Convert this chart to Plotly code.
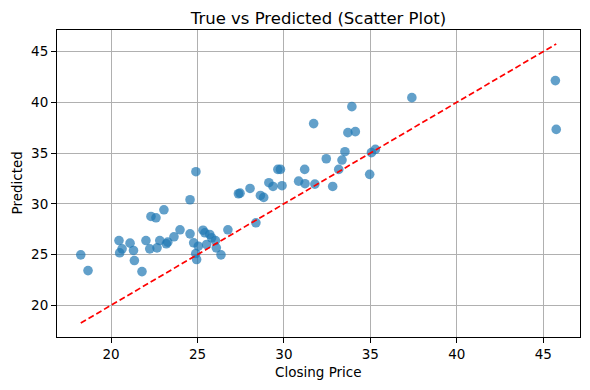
import plotly.graph_objects as go

# True (closing price) and predicted values
true_vals = [18.25, 18.67, 20.46, 20.50, 20.64, 21.10, 21.30, 21.35, 21.79, 22.02,
             22.24, 22.31, 22.60, 23.06, 22.66, 22.82, 23.20, 23.28, 23.64, 23.99,
             24.57, 24.57, 24.78, 24.90, 24.95, 25.05, 25.32, 25.43, 25.53, 25.71,
             25.82, 26.04, 26.09, 26.36, 26.76, 27.37, 27.46, 28.04, 28.38, 28.64,
             28.83, 29.13, 29.37, 29.89, 30.85, 31.22, 31.79, 24.91, 29.65, 29.80,
             31.20, 32.45, 31.72, 33.93, 33.70, 34.13, 33.53, 33.36, 33.17, 32.82,
             34.96, 35.06, 35.29, 37.40, 45.70, 45.75]
pred_vals = [24.97, 23.42, 26.38, 25.17, 25.56, 26.12, 25.40, 24.41, 23.32, 26.38,
             25.56, 28.75, 28.62, 29.41, 25.66, 26.38, 26.06, 26.22, 26.75, 27.44,
             30.40, 27.04, 26.16, 25.10, 24.51, 25.82, 27.40, 27.14, 25.99, 26.98,
             26.65, 26.38, 25.66, 24.97, 27.44, 30.99, 31.05, 31.51, 28.13, 30.82,
             30.63, 32.08, 31.71, 31.78, 32.23, 31.98, 31.94, 33.16, 33.39, 33.39,
             33.39, 34.44, 37.90, 39.57, 37.01, 37.11, 35.13, 34.31, 33.39, 31.71,
             32.90, 35.04, 35.36, 40.46, 42.14, 37.33]

x_ticks = [20, 25, 30, 35, 40, 45]
y_ticks = [20, 25, 30, 35, 40, 45]

lo = min(true_vals)
hi = max(true_vals)
span = hi - lo
rng = [lo - 0.05 * span, hi + 0.05 * span]

fig = go.Figure()
fig.add_trace(go.Scatter(
    x=true_vals, y=pred_vals, mode="markers",
    marker=dict(color="#1f77b4", size=9.6, opacity=0.7, line=dict(width=0)),
    showlegend=False,
))
fig.add_trace(go.Scatter(
    x=[lo, hi], y=[lo, hi], mode="lines",
    line=dict(color="red", width=1.7, dash="6px,3px"),
    showlegend=False,
))

axis_common = dict(
    showgrid=True, gridcolor="#b0b0b0", gridwidth=1.1,
    showline=True, linecolor="black", linewidth=1.1, mirror=True,
    ticks="outside", ticklen=5, tickwidth=1.1, tickcolor="black",
    zeroline=False, automargin=False,
    tickfont=dict(family="DejaVu Sans", size=13.5, color="black"),
)

label_font = dict(family="DejaVu Sans", size=13.5, color="black")

fig.update_layout(
    width=590, height=390,
    margin=dict(l=57, r=10, t=30, b=53),
    plot_bgcolor="white", paper_bgcolor="white",
    title=dict(text="True vs Predicted (Scatter Plot)", x=0.5, xref="paper",
               y=1, yref="paper", yanchor="bottom", pad=dict(b=6), automargin=False,
               font=dict(family="DejaVu Sans", size=16.5, color="black")),
    xaxis=dict(range=rng, tickvals=x_ticks, **axis_common),
    yaxis=dict(range=rng, tickvals=y_ticks, **axis_common),
    annotations=[
        dict(text="Closing Price", xref="paper", yref="paper", x=0.5, y=0,
             xanchor="center", yanchor="middle", yshift=-35, showarrow=False,
             font=label_font),
        dict(text="Predicted", xref="paper", yref="paper", x=0, y=0.5,
             xanchor="center", yanchor="middle", xshift=-41, textangle=-90,
             showarrow=False, font=label_font),
    ],
)

fig.write_html("out.html", config={"displayModeBar": False},
               post_script="document.body.style.margin='0';document.body.style.overflow='hidden';")
